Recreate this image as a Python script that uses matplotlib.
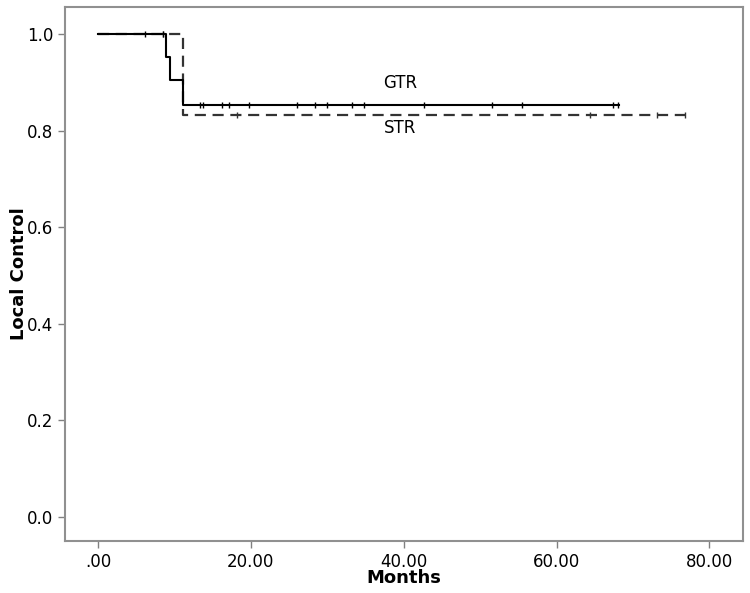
import matplotlib
matplotlib.use('Agg')
import matplotlib.pyplot as plt

plt.rcParams['font.family'] = ['DejaVu Sans']

# GTR curve (steps) and censor times
gtr_t = [0.0, 8.9, 9.4, 11.1, 68.2]
gtr_s = [1.0, 0.952, 0.905, 0.853, 0.853]
gtr_cens = [6.2, 8.5, 13.3, 13.7, 16.2, 17.1, 19.7, 26.0, 28.4, 29.9, 33.2, 34.8,
            42.6, 51.5, 55.5, 67.4, 68.1]

# STR curve
str_t = [0.0, 11.1, 77.0]
str_s = [1.0, 0.833, 0.833]
str_cens = [8.5, 18.2, 64.4, 73.2, 76.8]

xticks = [0, 20, 40, 60, 80]
xlabels = ['.00', '20.00', '40.00', '60.00', '80.00']
yticks = [0.0, 0.2, 0.4, 0.6, 0.8, 1.0]


def surv_at(t, times, surv):
    v = surv[0]
    for tt, ss in zip(times, surv):
        if t >= tt:
            v = ss
    return v


fig = plt.figure(figsize=(7.5, 5.93), dpi=100)
ax = fig.add_axes([0.0867, 0.0877, 0.904, 0.9005])

ax.plot(str_t, str_s, drawstyle='steps-post', color='#333333', lw=1.6,
        dashes=(5, 3))
ax.plot(gtr_t, gtr_s, drawstyle='steps-post', color='black', lw=1.5)

ax.plot(str_cens, [surv_at(c, str_t, str_s) for c in str_cens], ls='none',
        marker='|', ms=4.5, mew=1, color='#333333')
ax.plot(gtr_cens, [surv_at(c, gtr_t, gtr_s) for c in gtr_cens], ls='none',
        marker='|', ms=4.5, mew=1, color='black')

ax.text(39.5, 0.899, 'GTR', ha='center', va='center', fontsize=12)
ax.text(39.5, 0.805, 'STR', ha='center', va='center', fontsize=12)

ax.set_xlim(-4.32, 84.4)
ax.set_ylim(-0.0497, 1.056)
ax.set_xticks(xticks)
ax.set_xticklabels(xlabels)
ax.set_yticks(yticks)
ax.set_yticklabels(['%.1f' % v for v in yticks])
ax.tick_params(direction='out', length=5, width=1, color='#808080',
               labelsize=12)
for s in ax.spines.values():
    s.set_color('#909090')
    s.set_linewidth(1.5)

ax.set_xlabel('Months', fontsize=13, fontweight='bold', labelpad=-1)
ax.set_ylabel('Local Control', fontsize=13, fontweight='bold', labelpad=-1)

fig.savefig('out.png', dpi=100)
